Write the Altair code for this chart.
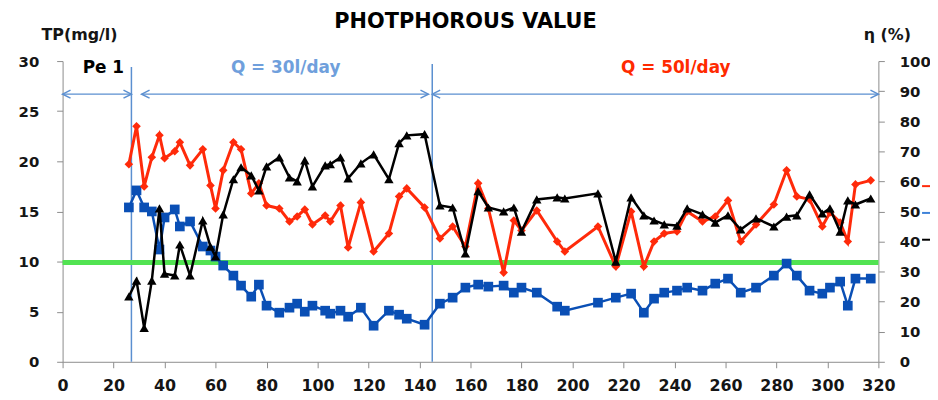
import altair as alt
import pandas as pd

# ---------------- data ----------------
days = [26, 29, 32, 35, 38, 40, 44, 46, 50, 55, 58, 60, 63, 67, 70, 74, 77, 80, 85, 89,
        92, 95, 98, 103, 105, 109, 112, 117, 122, 128, 132, 135, 142, 148, 153, 158, 163,
        167, 173, 177, 180, 186, 194, 197, 210, 217, 223, 228, 232, 236, 241, 245, 251,
        256, 261, 266, 272, 279, 284, 288, 293, 298, 301, 305, 308, 311, 317]

tp_red = [19.7, 23.5, 17.5, 20.4, 22.6, 20.3, 21.0, 21.9, 19.6, 21.2, 17.6, 15.3, 19.1, 21.9,
          21.2, 16.8, 17.8, 15.6, 15.3, 14.0, 14.5, 15.2, 13.7, 14.6, 14.0, 15.6, 11.4, 15.9,
          11.0, 12.8, 16.5, 17.3, 15.4, 12.3, 13.5, 11.5, 17.8, 15.3, 8.9, 14.1, 13.1, 15.1,
          12.0, 11.0, 13.5, 9.5, 15.0, 9.5, 12.0, 12.8, 13.0, 15.0, 14.0, 14.5, 16.1, 12.0,
          13.7, 15.7, 19.1, 16.5, 16.2, 13.5, 14.9, 13.9, 12.0, 17.7, 18.1]

tp_blue = [15.4, 17.1, 15.4, 15.0, 11.2, 14.4, 15.2, 13.5, 14.0, 11.5, 11.1, 10.5, 9.6, 8.6,
           7.6, 6.5, 7.7, 5.6, 4.9, 5.4, 5.8, 5.0, 5.6, 5.1, 4.8, 5.1, 4.5, 5.4, 3.6, 5.1,
           4.7, 4.3, 3.7, 5.8, 6.4, 7.4, 7.7, 7.5, 7.6, 6.9, 7.4, 6.9, 5.5, 5.1, 5.9, 6.4,
           6.8, 4.9, 6.3, 6.9, 7.1, 7.4, 7.1, 7.8, 8.3, 6.9, 7.4, 8.6, 9.8, 8.6, 7.1, 6.8,
           7.4, 8.0, 5.6, 8.3, 8.3]

eta_black = [21.7, 27.0, 11.3, 27.0, 51.0, 29.3, 28.7, 39.0, 28.7, 47.0, 38.3, 35.0, 49.0,
             60.7, 64.7, 62.0, 57.0, 65.0, 68.0, 61.3, 60.0, 67.0, 58.3, 65.3, 65.7, 68.0,
             61.0, 66.0, 69.0, 60.7, 72.7, 75.3, 75.7, 52.0, 51.3, 36.0, 56.7, 51.3, 50.0,
             51.3, 43.3, 54.0, 54.7, 54.3, 56.0, 33.3, 54.7, 48.7, 47.0, 45.7, 45.3, 51.0,
             49.0, 46.3, 48.7, 44.0, 47.7, 45.0, 48.3, 48.7, 55.7, 49.3, 51.0, 43.3, 53.7,
             52.3, 54.3]

threshold = [9.9]
phase_bounds = [27, 145]
arrow_start = [0, 31, 145]
arrow_end = [27, 143.5, 320]
arrow_level = [26.7]
label_text = ["Pe 1", "Q = 30l/day", "Q = 50l/day"]
label_x = [16, 87.5, 240.5]
label_y = [29.3, 29.3, 29.3]
label_color = ["#000000", "#6f9fdc", "#ff2a00"]

x_ticks = list(range(0, 321, 20))
left_ticks = list(range(0, 31, 5))
right_ticks = list(range(0, 101, 10))

# ---------------- tables ----------------
df_red = pd.DataFrame({"day": days, "v": tp_red})
df_blue = pd.DataFrame({"day": days, "v": tp_blue})
df_black = pd.DataFrame({"day": days, "v": eta_black})
df_thr = pd.DataFrame({"x0": [0], "x1": [320], "v": threshold})
df_vl = pd.DataFrame({"day": phase_bounds, "y0": [0, 0], "y1": [29.4, 29.7]})
df_arr = pd.DataFrame({"x0": arrow_start, "x1": arrow_end, "v": arrow_level * 3})
df_lab = pd.DataFrame({"day": label_x, "v": label_y, "t": label_text, "c": label_color})
df_one = pd.DataFrame({"a": [1]})

FONT = "DejaVu Sans"
AX = "#8c8c8c"
LBL = "#151515"

xscale = alt.Scale(domain=[0, 320], nice=False)
xaxis = alt.Axis(values=x_ticks, grid=False, domainColor=AX, tickColor=AX, tickSize=6,
                 labelFont=FONT, labelFontWeight="bold", labelFontSize=16, labelColor=LBL,
                 labelPadding=10, title=None, labelFlush=False)
lscale = alt.Scale(domain=[0, 30], nice=False)
laxis = alt.Axis(values=left_ticks, grid=False, domainColor=AX, tickColor=AX, tickSize=6,
                 labelFont=FONT, labelFontWeight="bold", labelFontSize=15, labelColor=LBL,
                 labelPadding=18, title=None, orient="left")
rscale = alt.Scale(domain=[0, 100], nice=False)
raxis = alt.Axis(values=right_ticks, grid=False, domainColor=AX, tickColor=AX, tickSize=6,
                 labelFont=FONT, labelFontWeight="bold", labelFontSize=15, labelColor=LBL,
                 labelPadding=15, title=None, orient="right", labelAlign="left")

X = lambda f: alt.X(f, type="quantitative", scale=xscale, axis=xaxis)
YL = lambda f: alt.Y(f, type="quantitative", scale=lscale, axis=laxis)

vlines = alt.Chart(df_vl).mark_rule(color="#5b8fd0", strokeWidth=1.5).encode(
    x=X("day"), y=YL("y0"), y2="y1")

arrows = alt.Chart(df_arr).mark_rule(color="#5b8fd0", strokeWidth=1.3).encode(
    x=X("x0"), x2="x1", y=YL("v"))
head_l = alt.Chart(df_arr).mark_point(shape="M2,-1L0,0L2,1", size=64, filled=False,
                                      color="#5b8fd0", strokeWidth=1.5, opacity=1).encode(
    x=X("x0"), y=YL("v"))
head_r = alt.Chart(df_arr).mark_point(shape="M-2,-1L0,0L-2,1", size=64, filled=False,
                                      color="#5b8fd0", strokeWidth=1.5, opacity=1).encode(
    x=X("x1"), y=YL("v"))

green = alt.Chart(df_thr).mark_rule(color="#52e352", strokeWidth=5).encode(
    x=X("x0"), x2="x1", y=YL("v"))

blue_line = alt.Chart(df_blue).mark_line(color="#0a4fb5", strokeWidth=2.5).encode(
    x=X("day"), y=YL("v"))
blue_pts = alt.Chart(df_blue).mark_point(shape="square", size=95, filled=True,
                                         color="#0a4fb5", opacity=1).encode(
    x=X("day"), y=YL("v"))
red_line = alt.Chart(df_red).mark_line(color="#ff2a0a", strokeWidth=3).encode(
    x=X("day"), y=YL("v"))
red_pts = alt.Chart(df_red).mark_point(shape="diamond", size=75, filled=True,
                                       color="#ff2a0a", opacity=1).encode(
    x=X("day"), y=YL("v"))

labels = alt.Chart(df_lab).mark_text(font=FONT, fontWeight="bold", fontSize=17).encode(
    x=X("day"), y=YL("v"), text="t:N", color=alt.Color("c:N", scale=None))

title = alt.Chart(df_one).mark_text(font=FONT, fontWeight="bold", fontSize=21,
                                    color="#000000", text="PHOTPHOROUS VALUE").encode(
    x=alt.value(406), y=alt.value(-39))
ytitle_l = alt.Chart(df_one).mark_text(font=FONT, fontWeight="bold", fontSize=16,
                                       color=LBL, text="TP(mg/l)").encode(
    x=alt.value(17), y=alt.value(-26))
ytitle_r = alt.Chart(df_one).mark_text(font=FONT, fontWeight="bold", fontSize=16,
                                       color=LBL, text="η (%)").encode(
    x=alt.value(831), y=alt.value(-26))

leg_red = alt.Chart(df_one).mark_rule(color="#ff2a0a", strokeWidth=2).encode(
    x=alt.value(866), x2=alt.value(876), y=alt.value(126))
leg_blue = alt.Chart(df_one).mark_rule(color="#3d82d8", strokeWidth=2).encode(
    x=alt.value(866), x2=alt.value(876), y=alt.value(153))
leg_black = alt.Chart(df_one).mark_rule(color="#000000", strokeWidth=2).encode(
    x=alt.value(866), x2=alt.value(876), y=alt.value(180))

left_part = alt.layer(vlines, arrows, head_l, head_r, green, blue_line, blue_pts,
                      red_line, red_pts, labels, title, ytitle_l, ytitle_r,
                      leg_red, leg_blue, leg_black)

black_line = alt.Chart(df_black).mark_line(color="#000000", strokeWidth=2.5).encode(
    x=X("day"), y=alt.Y("v:Q", scale=rscale, axis=raxis))
black_pts = alt.Chart(df_black).mark_point(shape="triangle-up", size=90, filled=True,
                                           color="#000000", opacity=1).encode(
    x=X("day"), y=alt.Y("v:Q", scale=rscale, axis=raxis))
right_part = alt.layer(black_line, black_pts)

chart = alt.layer(left_part, right_part).resolve_scale(y="independent").properties(
    width=822, height=303,
    autosize=alt.AutoSizeParams(type="none"),
    padding={"left": 55, "top": 52, "right": 52, "bottom": 36},
).configure_view(stroke=None)

chart.save("out.html", embed_options={"renderer": "svg", "actions": False})
